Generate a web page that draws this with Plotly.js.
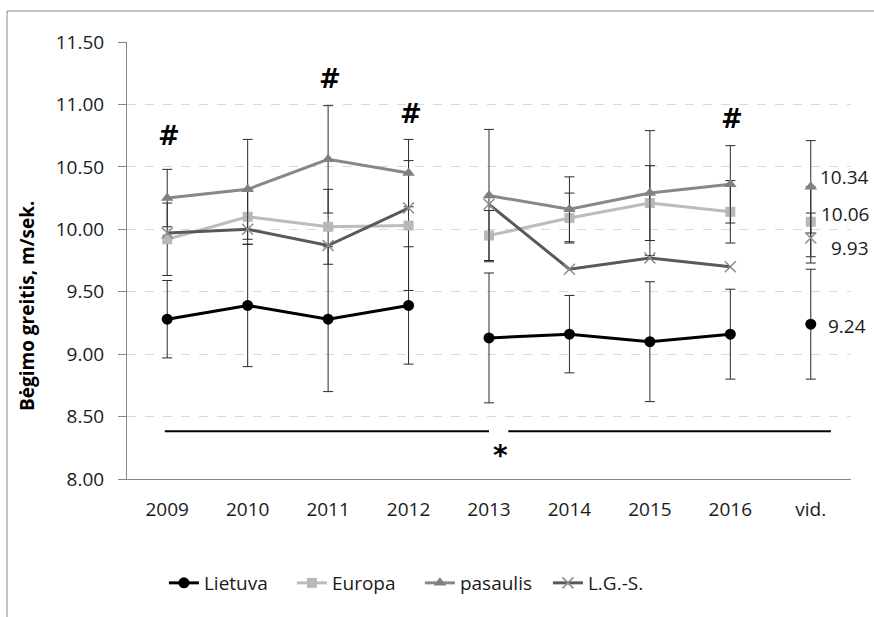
<!DOCTYPE html>
<html><head><meta charset="utf-8">
<script src="https://cdn.plot.ly/plotly-3.0.1.min.js"></script>
<style>html,body{margin:0;padding:0;background:#fff}#chart{width:874px;height:617px}</style>
</head><body><div id="chart"></div>
<script>
// ---- data ----
const categories = ['2009','2010','2011','2012','2013','2014','2015','2016','vid.'];
const lietuva    = [9.28, 9.39, 9.28, 9.39, 9.13, 9.16, 9.10, 9.16, 9.24];
const lietuvaSd  = [0.31, 0.49, 0.58, 0.47, 0.52, 0.31, 0.48, 0.36, 0.44];
const europa     = [9.92, 10.10, 10.02, 10.03, 9.95, 10.09, 10.21, 10.14, 10.06];
const europaSd   = [0.29, 0.22, 0.30, 0.52, 0.20, 0.20, 0.30, 0.25, 0.28];
const pasaulis   = [10.25, 10.32, 10.56, 10.45, 10.27, 10.16, 10.29, 10.36, 10.34];
const pasaulisSd = [0.23, 0.40, 0.43, 0.27, 0.53, 0.26, 0.50, 0.31, 0.37];
const lgs        = [9.97, 10.00, 9.87, 10.17, 10.20, 9.68, 9.77, 9.70, 9.93];
const lgsSd      = [null, null, null, null, null, null, null, null, 0.20];
const seriesNames = ['Lietuva', 'Europa', 'pasaulis', 'L.G.-S.'];
const hashCategories = ['2009', '2011', '2012', '2016'];
const starLabel = '*';

// ---- styling ----
const FONT = '"Open Sans", "Liberation Sans", sans-serif';
const TXT = '#1a1a1a';
const segments = [[0,4],[4,8],[8,9]];
const styles = [
  {values: lietuva, errors: lietuvaSd, color:'#000000', width:3, symbol:'circle', size:11, mcolor:'#000000', mline:'#000000'},
  {values: europa, errors: europaSd, color:'#bcbcbc', width:3, symbol:'square', size:10, mcolor:'#b8b8b8', mline:'#b8b8b8'},
  {values: pasaulis, errors: pasaulisSd, color:'#888888', width:3, symbol:'triangle-up', size:11, mcolor:'#808080', mline:'#808080'},
  {values: lgs, errors: lgsSd, color:'#595959', width:3, symbol:'x-thin-open', size:11, mcolor:'#8c8c8c', mline:'#8c8c8c'}
];

const traces = [];
styles.forEach((s, i) => {
  segments.forEach((seg, k) => {
    const es = s.errors.slice(seg[0], seg[1]).map(v => v == null ? NaN : v);
    traces.push({
      type: 'scatter', mode: 'lines+markers',
      x: categories.slice(seg[0], seg[1]),
      y: s.values.slice(seg[0], seg[1]),
      name: seriesNames[i], legendgroup: seriesNames[i], showlegend: k === 0,
      line: {color: s.color, width: s.width},
      marker: {symbol: s.symbol, size: s.size, color: s.mcolor, line: {color: s.mline, width: s.symbol.startsWith('x') ? 1.5 : 0}},
      error_y: {type: 'data', array: es, visible: true, color: '#2b2b2b', thickness: 1, width: 5},
      cliponaxis: false, hoverinfo: 'skip'
    });
  });
});

// value labels for the average column
const last = categories.length - 1;
const labelShifts = [[57, -2], [60, 8], [60, 10], [60, -10]];
const valueAnnots = styles.map((s, i) => ({
  x: last, y: s.values[last], xref: 'x', yref: 'y',
  text: s.values[last].toFixed(2), showarrow: false, xanchor: 'right', yanchor: 'middle',
  xshift: labelShifts[i][0], yshift: labelShifts[i][1],
  font: {family: FONT, size: 19, color: TXT}
}));

const hashY = [10.75, 11.20, 10.92, 10.88];
const hashAnnots = hashCategories.map((c, i) => ({
  x: categories.indexOf(c), y: hashY[i], xref: 'x', yref: 'y', text: '#', showarrow: false,
  xanchor: 'center', yanchor: 'middle', xshift: 2,
  font: {family: '"DejaVu Sans", sans-serif', size: 26, color: '#000', weight: 'bold'}
}));

const layout = {
  width: 874, height: 617,
  margin: {l: 127, r: 23, t: 42, b: 138},
  paper_bgcolor: '#ffffff', plot_bgcolor: '#ffffff',
  font: {family: FONT, size: 19, color: TXT},
  showlegend: true,
  legend: {orientation: 'h', x: 0.051, xanchor: 'left', y: -0.238, yanchor: 'middle',
           entrywidth: 83, entrywidthmode: 'pixels',
           font: {family: FONT, size: 19, color: TXT}, traceorder: 'normal', itemclick: false},
  xaxis: {type: 'category', range: [-0.5, 8.5], showline: true, linecolor: '#868686', linewidth: 1,
          ticks: '', showgrid: false, zeroline: false, ticklabelstandoff: 13,
          tickfont: {family: FONT, size: 19, color: TXT}},
  yaxis: {range: [8, 11.5], dtick: 0.5, tick0: 8, tickformat: '.2f', showline: true, linecolor: '#868686',
          ticks: 'outside', ticklen: 8, tickcolor: '#868686', showgrid: true, gridcolor: '#d9d9d9',
          griddash: 'dash', gridwidth: 1, zeroline: false, ticklabelstandoff: 10,
          tickfont: {family: FONT, size: 19, color: TXT}},
  shapes: [
    {type: 'line', xref: 'x', yref: 'y', x0: -0.03, x1: 4.0, y0: 8.383, y1: 8.383, line: {color: '#000', width: 2}},
    {type: 'line', xref: 'x', yref: 'y', x0: 4.24, x1: 8.25, y0: 8.383, y1: 8.383, line: {color: '#000', width: 2}},
    {type: 'rect', xref: 'paper', yref: 'paper', x0: -0.1657, x1: 1.3, y0: -0.6, y1: 1.0709,
     line: {color: '#8a8a8a', width: 1}, layer: 'below'}
  ],
  annotations: [
    ...valueAnnots, ...hashAnnots,
    {x: 4.14, y: 8.19, xref: 'x', yref: 'y', text: '<b>' + starLabel + '</b>', showarrow: false,
     font: {family: '"DejaVu Sans", sans-serif', size: 28, color: '#000'}},
    {xref: 'paper', yref: 'paper', x: -0.138, y: 0.396, xanchor: 'center', yanchor: 'middle',
     text: '<b>Bėgimo greitis, m/sek.</b>', textangle: -90, showarrow: false,
     font: {family: FONT, size: 19, color: '#000'}}
  ]
};

Plotly.newPlot('chart', traces, layout, {displayModeBar: false, staticPlot: true});
</script></body></html>
